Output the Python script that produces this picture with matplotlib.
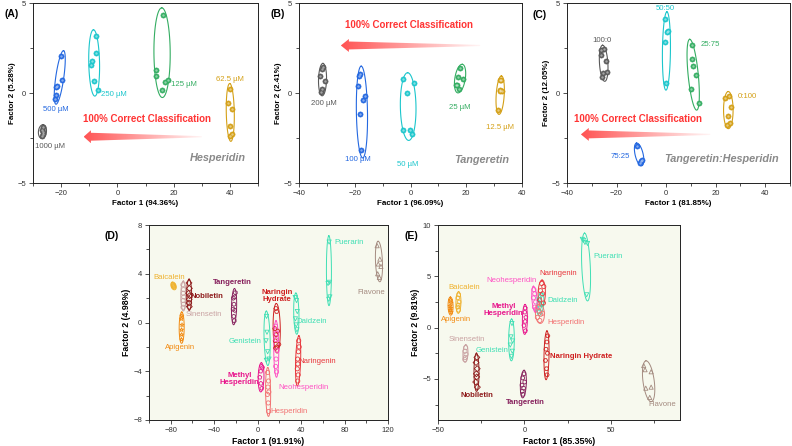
import numpy as np
import matplotlib
matplotlib.use('Agg')
import matplotlib.pyplot as plt
from matplotlib.patches import Polygon
from matplotlib.ticker import MultipleLocator
from matplotlib.colors import to_rgb

plt.rcParams['font.family'] = ['Liberation Sans', 'DejaVu Sans']

# ---------------- data: top row (A, B, C) ----------------
a_labels = ['1000 µM', '500 µM', '250 µM', '125 µM', '62.5 µM']
a_x = [[-26.3, -26.8, -26.5, -26.8, -26.6],
       [-20.2, -19.8, -21.4, -21.8, -21.9, -22.2],
       [-7.7, -7.6, -8.9, -9.5, -8.4, -6.8],
       [16.1, 13.8, 13.8, 15.7, 17.1, 18.1],
       [40.1, 39.5, 40.7, 40.1, 40.6, 40.1]]
a_y = [[-1.91, -2.06, -2.25, -2.38, -2.15],
       [2.08, 0.72, 0.39, 0.31, -0.11, -0.32],
       [3.18, 2.21, 1.80, 1.56, 0.69, 0.17],
       [4.31, 1.28, 0.97, 0.17, 0.63, 0.72],
       [0.22, -0.58, -0.89, -1.84, -2.29, -2.38]]

b_labels = ['200 µM', '100 µM', '50 µM', '25 µM', '12.5 µM']
b_x = [[-31.3, -32.3, -30.8, -31.6, -32.2, -31.9],
       [-18.1, -18.3, -18.9, -16.2, -17.1, -18.1, -17.8],
       [-2.75, 1.08, -1.3, -2.75, -0.1, 0.36],
       [17.8, 17.1, 19.0, 16.2, 16.6, 17.4],
       [32.0, 32.2, 32.8, 31.5, 32.4, 32.1]]
b_y = [[1.43, 0.95, 0.67, 0.20, 0.06, 1.34],
       [1.06, 0.95, 0.41, -0.15, -0.39, -1.17, -3.18],
       [0.78, 0.56, 0.02, -2.06, -2.03, -2.29],
       [1.41, 0.91, 0.80, 0.46, 0.45, 0.20],
       [0.72, 0.17, 0.13, -0.95, 0.70, 0.10]]

c_labels = ['100:0', '75:25', '50:50', '25:75', '0:100']
c_x = [[-26.1, -25.1, -24.4, -26.4, -24.0, -25.3, -25.7],
       [-11.7, -9.9, -10.6, -10.0],
       [-0.27, 0.8, -0.4, 0.5, -0.13],
       [10.5, 10.3, 10.7, 11.9, 10.2, 13.4],
       [23.9, 25.5, 26.3, 24.8, 24.5, 25.6]]
c_y = [[2.40, 2.43, 1.80, 2.12, 1.19, 1.10, 0.87],
       [-2.96, -3.70, -3.88, -3.80],
       [4.13, 3.42, 2.83, 3.40, 0.54],
       [2.64, 1.88, 1.52, 1.00, 0.20, -0.58],
       [-0.30, -0.15, -0.76, -1.26, -1.75, -1.69]]

top_colors = {'gray': '#5a5a5a', 'blue': '#2468e0', 'cyan': '#1cc6cc',
              'green': '#34ad62', 'gold': '#d4a017'}
group_cols = ['gray', 'blue', 'cyan', 'green', 'gold']

# ---------------- data: bottom row (D, E) ----------------
compounds = ['Baicalein', 'Sinensetin', 'Nobiletin', 'Apigenin', 'Tangeretin',
             'Naringin Hydrate', 'Neohesperidin', 'Genistein', 'Daidzein',
             'Puerarin', 'Flavone', 'Naringenin', 'Methyl Hesperidin', 'Hesperidin']
comp_color = {'Baicalein': '#efb22e', 'Sinensetin': '#c9a2a2', 'Nobiletin': '#8e1b1b',
              'Apigenin': '#f28a10', 'Tangeretin': '#86205c', 'Naringin Hydrate': '#cf2020',
              'Neohesperidin': '#ff52c4', 'Genistein': '#3fdfb4', 'Daidzein': '#3fdfb4',
              'Puerarin': '#3fdfb4', 'Flavone': '#a48b80', 'Naringenin': '#e8363c',
              'Methyl Hesperidin': '#e8168c', 'Hesperidin': '#f27272'}
comp_marker = {'Baicalein': 'h', 'Sinensetin': 'o', 'Nobiletin': 'D', 'Apigenin': '*',
               'Tangeretin': 'h', 'Naringin Hydrate': 'H', 'Neohesperidin': 'o',
               'Genistein': 'v', 'Daidzein': 'v', 'Puerarin': 'v', 'Flavone': '^',
               'Naringenin': 'o', 'Methyl Hesperidin': 'p', 'Hesperidin': 'o'}
bold_names = ['Nobiletin', 'Tangeretin', 'Naringin Hydrate', 'Methyl Hesperidin']

d_x = {'Baicalein': [-77.6, -77.2, -77.4, -77.0, -77.8],
       'Sinensetin': [-68.8, -68.2, -68.5, -68.0, -68.6, -68.3, -68.7],
       'Nobiletin': [-63.2, -62.8, -63.5, -62.6, -63.0, -63.3, -62.9],
       'Apigenin': [-69.8, -70.2, -69.6, -70.0, -69.9, -70.1],
       'Tangeretin': [-20.5, -21.2, -22.4, -21.8, -22.6, -21.0, -22.0, -21.5],
       'Naringin Hydrate': [16.8, 17.5, 15.8, 18.5, 17.0, 16.2, 19.5, 17.8, 16.5],
       'Neohesperidin': [16.5, 17.2, 16.8, 17.8, 17.0, 16.6, 17.4],
       'Genistein': [8.2, 8.6, 7.8, 9.2, 8.0, 10.5],
       'Daidzein': [34.5, 35.8, 36.5, 34.8, 35.5, 36.2],
       'Puerarin': [65.8, 66.2, 64.8, 66.5, 65.5],
       'Flavone': [110.0, 112.5, 111.0, 113.5, 110.5, 112.0],
       'Naringenin': [37.8, 38.2, 37.5, 36.8, 37.0, 36.5, 37.3, 36.9],
       'Methyl Hesperidin': [3.5, 2.8, 4.5, 2.0, 3.0, 3.8],
       'Hesperidin': [9.2, 10.0, 9.5, 10.3, 9.0, 9.8, 10.1]}
d_y = {'Baicalein': [3.05, 2.95, 3.0, 2.9, 3.1],
       'Sinensetin': [3.1, 2.7, 2.4, 2.1, 1.8, 1.5, 1.25],
       'Nobiletin': [3.25, 2.8, 2.4, 2.2, 1.9, 1.6, 1.3],
       'Apigenin': [0.55, 0.3, -0.2, -0.6, -1.0, -1.4],
       'Tangeretin': [2.45, 2.1, 2.0, 1.5, 1.1, 1.0, 0.5, 0.15],
       'Naringin Hydrate': [1.15, 0.9, -0.5, -0.7, -1.0, -1.5, -1.8, -2.0, -2.1],
       'Neohesperidin': [-0.3, -0.9, -1.4, -2.3, -3.0, -3.6, -4.05],
       'Genistein': [0.5, -0.8, -1.5, -2.4, -3.1, -3.0],
       'Daidzein': [2.05, 1.8, 0.9, 0.3, -0.2, -0.6],
       'Puerarin': [6.6, 3.3, 3.2, 2.1, 1.9],
       'Flavone': [6.3, 5.2, 4.8, 4.6, 4.0, 3.7],
       'Naringenin': [-1.5, -2.0, -2.4, -3.0, -3.4, -3.8, -4.3, -4.8],
       'Methyl Hesperidin': [-3.6, -4.0, -3.7, -4.5, -5.0, -5.4],
       'Hesperidin': [-4.1, -4.8, -5.3, -5.7, -5.9, -6.6, -7.3]}
d_lab = {'Baicalein': (-81, 3.7), 'Sinensetin': (-50, 0.68), 'Nobiletin': (-47, 2.16),
         'Apigenin': (-71, -2.08), 'Tangeretin': (-23.5, 3.25), 'Naringin Hydrate': (18, 2.2),
         'Neohesperidin': (42, -5.33), 'Genistein': (-11.5, -1.53), 'Daidzein': (50, 0.05),
         'Puerarin': (84, 6.53), 'Flavone': (105, 2.5), 'Naringenin': (55, -3.17),
         'Methyl Hesperidin': (-16.5, -4.6), 'Hesperidin': (28.5, -7.32)}

e_x = {'Baicalein': [-38.0, -38.5, -37.8, -38.3, -38.6, -38.1],
       'Sinensetin': [-34.0, -34.4, -33.8, -34.2, -34.5],
       'Nobiletin': [-27.5, -28.0, -27.3, -27.8, -27.6, -28.2, -27.2],
       'Apigenin': [-42.8, -42.5, -43.0, -42.6, -42.9, -42.4],
       'Tangeretin': [-0.2, -1.0, 0.2, -1.4, -0.5, -1.2, -0.8],
       'Naringin Hydrate': [13.5, 13.0, 12.5, 13.3, 12.2, 12.8, 13.1],
       'Neohesperidin': [5.5, 6.0, 5.2, 6.5, 5.8, 6.8],
       'Genistein': [-7.2, -7.8, -6.8, -8.2, -7.0, -7.5],
       'Daidzein': [9.8, 8.5, 10.2, 9.0, 8.3],
       'Puerarin': [33.5, 35.0, 36.5, 34.2, 36.0],
       'Flavone': [69.0, 69.8, 73.3, 70.2, 73.3, 72.5],
       'Naringenin': [10.0, 11.2, 9.3, 10.5, 8.8, 11.0],
       'Methyl Hesperidin': [0.5, 0.2, 0.8, 0.4, -0.3, 0.6],
       'Hesperidin': [7.8, 8.6, 9.4, 7.5, 8.9, 10.5]}
e_y = {'Baicalein': [3.2, 2.9, 2.5, 2.2, 2.0, 1.7],
       'Sinensetin': [-1.95, -2.3, -2.6, -2.9, -3.1],
       'Nobiletin': [-2.9, -3.4, -4.0, -4.5, -4.8, -5.3, -5.8],
       'Apigenin': [2.7, 2.4, 2.1, 1.9, 1.7, 1.5],
       'Tangeretin': [-4.5, -4.9, -5.3, -5.6, -5.9, -6.2, -6.5],
       'Naringin Hydrate': [-0.8, -1.4, -2.1, -2.5, -3.2, -4.0, -4.6],
       'Neohesperidin': [3.7, 3.3, 2.9, 2.5, 2.0, 1.8],
       'Genistein': [0.4, -0.9, -1.3, -1.7, -2.3, -2.8],
       'Daidzein': [3.1, 2.7, 2.3, 1.9, 1.5],
       'Puerarin': [8.6, 8.3, 8.2, 8.5, 3.2],
       'Flavone': [-3.7, -4.1, -4.3, -5.9, -5.8, -6.8],
       'Naringenin': [4.3, 4.0, 3.6, 3.3, 2.7, 2.4],
       'Methyl Hesperidin': [1.9, 1.5, 1.0, 0.6, 0.2, -0.3],
       'Hesperidin': [2.0, 1.6, 1.3, 1.0, 0.7, 1.4]}
e_lab = {'Baicalein': (-35, 3.9), 'Sinensetin': (-33.5, -1.2), 'Nobiletin': (-27.3, -6.6),
         'Apigenin': (-39.5, 0.75), 'Tangeretin': (0.4, -7.25), 'Naringin Hydrate': (33, -2.8),
         'Neohesperidin': (-7.5, 4.6), 'Genistein': (-19, -2.2), 'Daidzein': (22, 2.65),
         'Puerarin': (48.5, 6.96), 'Flavone': (80, -7.5), 'Naringenin': (19.7, 5.26),
         'Methyl Hesperidin': (-12.2, 1.7), 'Hesperidin': (24.2, 0.52)}


def cluster_ellipse(ax, x, y, color, lw=0.8, bmin=3.0):
    # ellipse round a cluster, worked out in pixel space so the tilt looks right
    T = ax.transData
    p = T.transform(np.column_stack([x, y]))
    c0 = p.mean(axis=0)
    q = p - c0
    vals, vecs = np.linalg.eigh(np.cov(q.T))
    major = vecs[:, np.argmax(vals)]
    minor = np.array([-major[1], major[0]])
    u = q @ major
    v = q @ minor
    uc = (u.max() + u.min()) / 2
    vc = (v.max() + v.min()) / 2
    a = max(np.abs(u - uc).max() * 1.15 + 2.0, 4.0)
    b = max(np.abs(v - vc).max() * 1.1 + 1.5, bmin)
    t = np.linspace(0, 2 * np.pi, 120)
    cen = c0 + uc * major + vc * minor
    pts = cen + np.outer(a * np.cos(t), major) + np.outer(b * np.sin(t), minor)
    d = T.inverted().transform(pts)
    ax.plot(d[:, 0], d[:, 1], color=color, lw=lw, zorder=2)


def grad_arrow(ax, x_tail, x_head, y, hh, sh, hl, color='#ff4040'):
    hb = x_head + hl
    verts = [(x_tail, y + sh * 0.15), (hb, y + sh), (hb, y + hh), (x_head, y),
             (hb, y - hh), (hb, y - sh), (x_tail, y - sh * 0.15)]
    poly = Polygon(verts, closed=True, facecolor='none', edgecolor='none')
    ax.add_patch(poly)
    grad = np.zeros((2, 256, 4))
    grad[..., :3] = to_rgb(color)
    grad[..., 3] = np.linspace(0.9, 0.05, 256)
    im = ax.imshow(grad, extent=[x_head, x_tail, y - hh, y + hh], aspect='auto',
                   interpolation='bilinear', zorder=1)
    im.set_clip_path(poly)


def style_axis(ax, xlim, ylim, xmaj, xmin, ymaj, ymin, bg='white'):
    ax.set_xlim(*xlim)
    ax.set_ylim(*ylim)
    ax.set_facecolor(bg)
    ax.xaxis.set_major_locator(MultipleLocator(xmaj))
    ax.xaxis.set_minor_locator(MultipleLocator(xmin))
    ax.yaxis.set_major_locator(MultipleLocator(ymaj))
    ax.yaxis.set_minor_locator(MultipleLocator(ymin))
    ax.tick_params(which='both', direction='out', labelsize=5.5, colors='#333333',
                   width=0.6, pad=2)
    ax.tick_params(which='major', length=3)
    ax.tick_params(which='minor', length=2)
    for s in ax.spines.values():
        s.set_linewidth(0.7)
        s.set_color('#222222')


def top_panel(ax, xs, ys, labels, lab_pos):
    for x, y, c, lab, pos in zip(xs, ys, group_cols, labels, lab_pos):
        col = top_colors[c]
        cluster_ellipse(ax, x, y, col, lw=0.8, bmin=4.0)
        ax.scatter(x, y, s=14, color=col, edgecolors=col, linewidths=0.4, zorder=3)
        ax.scatter(x, y, s=3, color='white', alpha=0.45, linewidths=0, zorder=4)
        ax.text(pos[0], pos[1], lab, color=col, fontsize=5.6, ha='center', va='center')


fig = plt.figure(figsize=(7.92, 4.46), dpi=100)
W, H = 792.0, 446.0


def add_ax(l, r, t, b):
    return fig.add_axes([l / W, 1 - b / H, (r - l) / W, (b - t) / H])


red = '#ff3434'
note_gray = '#8a8a8a'

# (A)
ax = add_ax(33, 258, 3, 183)
style_axis(ax, (-30, 50), (-5, 5), 20, 10, 5, 2.5)
top_panel(ax, a_x, a_y, a_labels,
          [(-24, -3.0), (-22, -0.9), (-1.2, -0.1), (23.5, 0.45), (40, 0.75)])
grad_arrow(ax, 30, -12, -2.43, 0.36, 0.22, 2.6)
ax.text(10.7, -1.45, '100% Correct Classification', color=red, fontsize=7,
        fontweight='bold', ha='center', va='center')
ax.text(35.6, -3.6, 'Hesperidin', color=note_gray, fontsize=7.8, fontweight='bold',
        style='italic', ha='center', va='center')
ax.set_xlim(-30, 50)
ax.set_ylim(-5, 5)
ax.set_xlabel('Factor 1 (94.36%)', fontsize=5.8, fontweight='bold', labelpad=2)
ax.set_ylabel('Factor 2 (5.28%)', fontsize=5.8, fontweight='bold', labelpad=1)

# (B)
ax = add_ax(299, 522, 3, 183)
style_axis(ax, (-40, 40), (-5, 5), 20, 10, 5, 2.5)
top_panel(ax, b_x, b_y, b_labels,
          [(-31.1, -0.58), (-18.9, -3.7), (-1, -3.96), (17.8, -0.8), (32, -1.93)])
grad_arrow(ax, 25, -25, 2.64, 0.36, 0.22, 2.9)
ax.text(-0.4, 3.79, '100% Correct Classification', color=red, fontsize=7,
        fontweight='bold', ha='center', va='center')
ax.text(25.7, -3.74, 'Tangeretin', color=note_gray, fontsize=7.8, fontweight='bold',
        style='italic', ha='center', va='center')
ax.set_xlim(-40, 40)
ax.set_ylim(-5, 5)
ax.set_xlabel('Factor 1 (96.09%)', fontsize=5.8, fontweight='bold', labelpad=2)
ax.set_ylabel('Factor 2 (2.41%)', fontsize=5.8, fontweight='bold', labelpad=1)

# (C)
ax = add_ax(567, 790, 3, 183)
style_axis(ax, (-40, 50), (-5, 5), 20, 10, 5, 2.5)
top_panel(ax, c_x, c_y, c_labels,
          [(-25.9, 2.9), (-18.4, -3.55), (-0.27, 4.68), (17.8, 2.71), (32.6, -0.2)])
grad_arrow(ax, 17.8, -34.4, -2.3, 0.36, 0.22, 3.2)
ax.text(-11.4, -1.45, '100% Correct Classification', color=red, fontsize=7,
        fontweight='bold', ha='center', va='center')
ax.text(22.3, -3.64, 'Tangeretin:Hesperidin', color=note_gray, fontsize=7.8,
        fontweight='bold', style='italic', ha='center', va='center')
ax.set_xlim(-40, 50)
ax.set_ylim(-5, 5)
ax.set_xlabel('Factor 1 (81.85%)', fontsize=5.8, fontweight='bold', labelpad=2)
ax.set_ylabel('Factor 2 (12.05%)', fontsize=5.8, fontweight='bold', labelpad=1)


def bottom_panel(ax, xs, ys, labpos, two_line):
    for name in compounds:
        col = comp_color[name]
        cluster_ellipse(ax, xs[name], ys[name], col, lw=0.7, bmin=2.5)
        ax.scatter(xs[name], ys[name], s=9, marker=comp_marker[name], facecolors='none',
                   edgecolors=col, linewidths=0.6, zorder=3)
        lab = name.replace(' ', '\n') if name in two_line else name
        ax.text(labpos[name][0], labpos[name][1], lab, color=col, fontsize=5.6,
                fontweight='bold' if name in bold_names else 'normal',
                ha='center', va='center', linespacing=1.0)


bg = '#f7f9ee'
# (D)
axd = add_ax(149, 388, 225, 420)
style_axis(axd, (-100, 120), (-8, 8), 40, 20, 4, 2, bg)
bottom_panel(axd, d_x, d_y, d_lab, ['Methyl Hesperidin', 'Naringin Hydrate'])
axd.set_xlabel('Factor 1 (91.91%)', fontsize=6.3, fontweight='bold', labelpad=2)
axd.set_ylabel('Factor 2 (4.98%)', fontsize=6.3, fontweight='bold', labelpad=2)

# (E)
axe = add_ax(438, 680, 225, 420)
style_axis(axe, (-50, 90), (-9, 10), 50, 25, 5, 2.5, bg)
bottom_panel(axe, e_x, e_y, e_lab, ['Methyl Hesperidin'])
axe.set_xlabel('Factor 1 (85.35%)', fontsize=6.3, fontweight='bold', labelpad=2)
axe.set_ylabel('Factor 2 (9.81%)', fontsize=6.3, fontweight='bold', labelpad=2)

for lab, px, py in [('(A)', 12, 14), ('(B)', 278, 14), ('(C)', 540, 15),
                    ('(D)', 112, 236), ('(E)', 411, 236)]:
    fig.text(px / W, 1 - py / H, lab, fontsize=7.5, fontweight='bold',
             ha='center', va='center')

fig.savefig('out.png', dpi=100)
